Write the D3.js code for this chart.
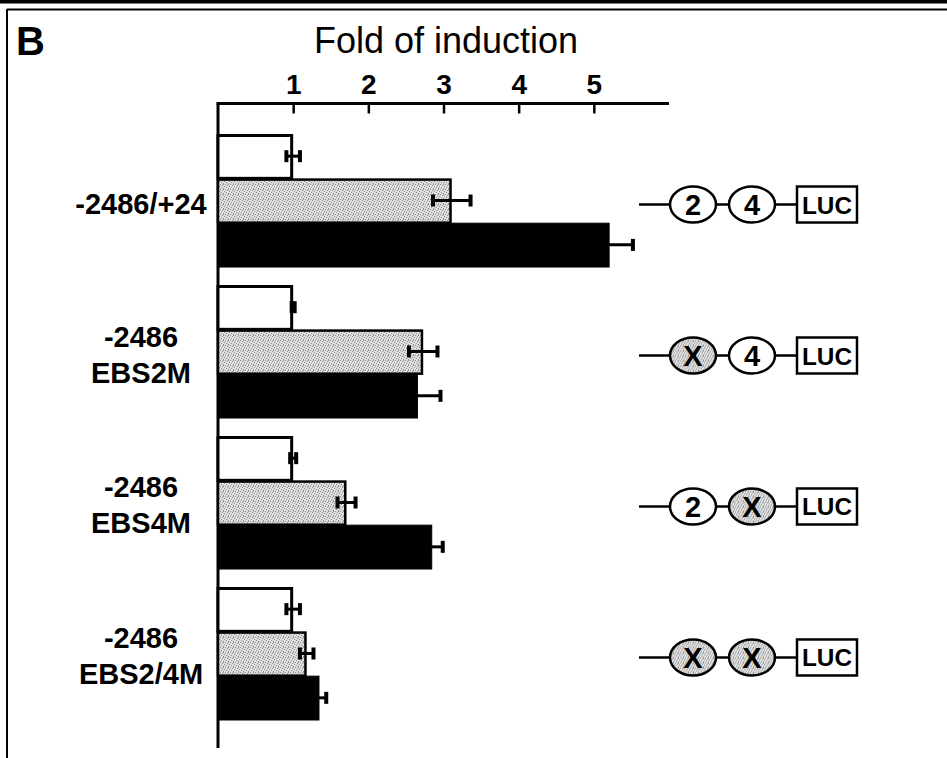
<!DOCTYPE html>
<html>
<head>
<meta charset="utf-8">
<script src="https://cdn.jsdelivr.net/npm/d3@7"></script>
<style>
  html, body { margin: 0; padding: 0; background: #fff; }
  svg { display: block; }
  text { font-family: Arial, "Liberation Sans", Helvetica, sans-serif; }
</style>
</head>
<body>
<svg id="chart" width="947" height="758"></svg>
<script>
// Constructs (rows) and their two-line labels
const constructs = ["-2486/+24", "-2486 EBS2M", "-2486 EBS4M", "-2486 EBS2/4M"];
const labelLines = [["-2486/+24"], ["-2486", "EBS2M"], ["-2486", "EBS4M"], ["-2486", "EBS2/4M"]];

// Three treatments per construct: control (white), stippled, solid
const seriesNames = ["control", "treatA", "treatB"];
const foldControl = [1.0, 1.0, 1.0, 1.0];
const foldA = [3.11, 2.73, 1.71, 1.18];
const foldB = [5.21, 2.66, 2.85, 1.35];
const errControl = [0.09, 0.02, 0.04, 0.09];
const errA = [0.25, 0.19, 0.12, 0.09];
const errB = [0.31, 0.30, 0.14, 0.09];

// Promoter element diagrams: "2"/"4" intact sites, "X" mutated sites
const siteA = ["2", "X", "2", "X"];
const siteB = ["4", "4", "X", "X"];

const tickValues = [1, 2, 3, 4, 5];
const axisTitle = "Fold of induction";
const panelLetter = "B";

const svg = d3.select("#chart");

// stipple texture for the grey bars and mutated sites
const defs = svg.append("defs");
const pat = defs.append("pattern")
  .attr("id", "stipple").attr("patternUnits", "userSpaceOnUse")
  .attr("width", 5).attr("height", 5);
pat.append("rect").attr("width", 5).attr("height", 5).attr("fill", "#dedede");
[[0,0],[2,1],[4,2],[1,3],[3,4],[3,0]].forEach(([dx, dy]) => {
  pat.append("rect").attr("x", dx).attr("y", dy).attr("width", 1).attr("height", 1).attr("fill", "#8f8f8f");
});

// frame lines
svg.append("rect").attr("x", 0).attr("y", 0).attr("width", 947).attr("height", 3.5).attr("fill", "#000");
svg.append("line").attr("x1", 7).attr("x2", 947).attr("y1", 9.5).attr("y2", 9.5).attr("stroke", "#000").attr("stroke-width", 2);
svg.append("line").attr("x1", 7).attr("x2", 7).attr("y1", 9).attr("y2", 758).attr("stroke", "#000").attr("stroke-width", 2);

svg.append("text").attr("x", 16).attr("y", 55).attr("font-size", 40).attr("font-weight", "bold").text(panelLetter);

// scales
const x = d3.scaleLinear().domain([0, 6]).range([218, 669]);
const y = d3.scaleBand().domain(constructs).range([134, 720]).paddingInner(0.119).paddingOuter(0);
const yInner = d3.scaleBand().domain(seriesNames).range([0, y.bandwidth()]).padding(0);

// top axis
const axisY = 103.5;
const axis = d3.axisTop(x).tickValues(tickValues).tickSize(-10).tickFormat(d3.format("d"));
const gAxis = svg.append("g").attr("transform", `translate(0,${axisY})`).call(axis);
gAxis.select(".domain").remove();
gAxis.selectAll(".tick line").attr("stroke", "#000").attr("stroke-width", 2.5);
gAxis.selectAll(".tick text")
  .attr("y", -10).attr("dy", 0)
  .style("font-family", "Arial, 'Liberation Sans', sans-serif")
  .style("font-weight", "bold").style("font-size", "28px").attr("fill", "#000");
svg.append("line").attr("x1", x(0) - 1.5).attr("x2", x(6)).attr("y1", axisY).attr("y2", axisY)
  .attr("stroke", "#000").attr("stroke-width", 3);
// vertical baseline
svg.append("line").attr("x1", x(0)).attr("x2", x(0)).attr("y1", axisY).attr("y2", 748)
  .attr("stroke", "#000").attr("stroke-width", 3);

svg.append("text").attr("x", (312 + 580) / 2).attr("y", 53).attr("text-anchor", "middle")
  .attr("font-size", 36).text(axisTitle);

// bars
const rows = constructs.map((c, i) => ({
  c,
  vals: [
    { s: "control", v: foldControl[i], e: errControl[i] },
    { s: "treatA", v: foldA[i], e: errA[i] },
    { s: "treatB", v: foldB[i], e: errB[i] }
  ]
}));

const style = {
  control: { fill: "#fff", stroke: "#000", sw: 3 },
  treatA: { fill: "url(#stipple)", stroke: "#000", sw: 2.5 },
  treatB: { fill: "#000", stroke: "#000", sw: 1 }
};

const gRows = svg.selectAll("g.row").data(rows).join("g").attr("class", "row")
  .attr("transform", d => `translate(0,${y(d.c)})`);

gRows.selectAll("rect.bar").data(d => d.vals).join("rect").attr("class", "bar")
  .attr("x", x(0))
  .attr("y", d => yInner(d.s) + style[d.s].sw / 2)
  .attr("width", d => x(d.v) - x(0) - style[d.s].sw / 2)
  .attr("height", d => yInner.bandwidth() - style[d.s].sw / 2)
  .attr("fill", d => style[d.s].fill)
  .attr("stroke", d => style[d.s].stroke)
  .attr("stroke-width", d => style[d.s].sw);

// error bars
const eb = gRows.selectAll("g.err").data(d => d.vals).join("g").attr("class", "err")
  .attr("transform", d => `translate(0,${yInner(d.s) + yInner.bandwidth() / 2})`);
eb.append("line")
  .attr("x1", d => x(d.v - d.e)).attr("x2", d => x(d.v + d.e))
  .attr("stroke", "#000").attr("stroke-width", 3);
eb.append("line")
  .attr("x1", d => x(d.v + d.e)).attr("x2", d => x(d.v + d.e)).attr("y1", -6).attr("y2", 6)
  .attr("stroke", "#000").attr("stroke-width", 4);
eb.append("line")
  .attr("x1", d => x(d.v - d.e)).attr("x2", d => x(d.v - d.e)).attr("y1", -6).attr("y2", 6)
  .attr("stroke", "#000").attr("stroke-width", 4);

// row labels
const lab = svg.selectAll("text.rowlab").data(constructs).join("text").attr("class", "rowlab")
  .attr("text-anchor", "middle").attr("font-weight", "bold").attr("font-size", 29)
  .attr("x", 141);
lab.each(function(c, i) {
  const lines = labelLines[i];
  const cy = y(c) + y.bandwidth() / 2;
  const lh = 36;
  const first = cy - (lines.length - 1) * lh / 2 + 13;
  d3.select(this).selectAll("tspan").data(lines).join("tspan")
    .attr("x", 141).attr("y", (d, k) => first + k * lh).text(d => d);
});

// promoter diagrams
const gDiag = svg.selectAll("g.diag").data(constructs).join("g").attr("class", "diag")
  .attr("transform", c => `translate(0,${y(c) + y.bandwidth() / 2 + 4})`);
gDiag.append("line").attr("x1", 639).attr("x2", 797).attr("y1", 0).attr("y2", 0)
  .attr("stroke", "#000").attr("stroke-width", 2.5);
[ {cx: 693, arr: siteA}, {cx: 752, arr: siteB} ].forEach(site => {
  gDiag.append("ellipse").attr("cx", site.cx).attr("cy", 0).attr("rx", 23).attr("ry", 18)
    .attr("fill", (c, i) => site.arr[i] === "X" ? "url(#stipple)" : "#fff")
    .attr("stroke", "#000").attr("stroke-width", 2.5);
  gDiag.append("text").attr("x", site.cx).attr("y", 10.5).attr("text-anchor", "middle")
    .attr("font-weight", "bold").attr("font-size", 29)
    .text((c, i) => site.arr[i]);
});
gDiag.append("rect").attr("x", 797).attr("y", -18).attr("width", 60).attr("height", 36)
  .attr("fill", "#fff").attr("stroke", "#000").attr("stroke-width", 2.5);
gDiag.append("text").attr("x", 827).attr("y", 9).attr("text-anchor", "middle")
  .attr("font-weight", "bold").attr("font-size", 24).attr("textLength", 50)
  .attr("lengthAdjust", "spacingAndGlyphs").text("LUC");
</script>
</body>
</html>
